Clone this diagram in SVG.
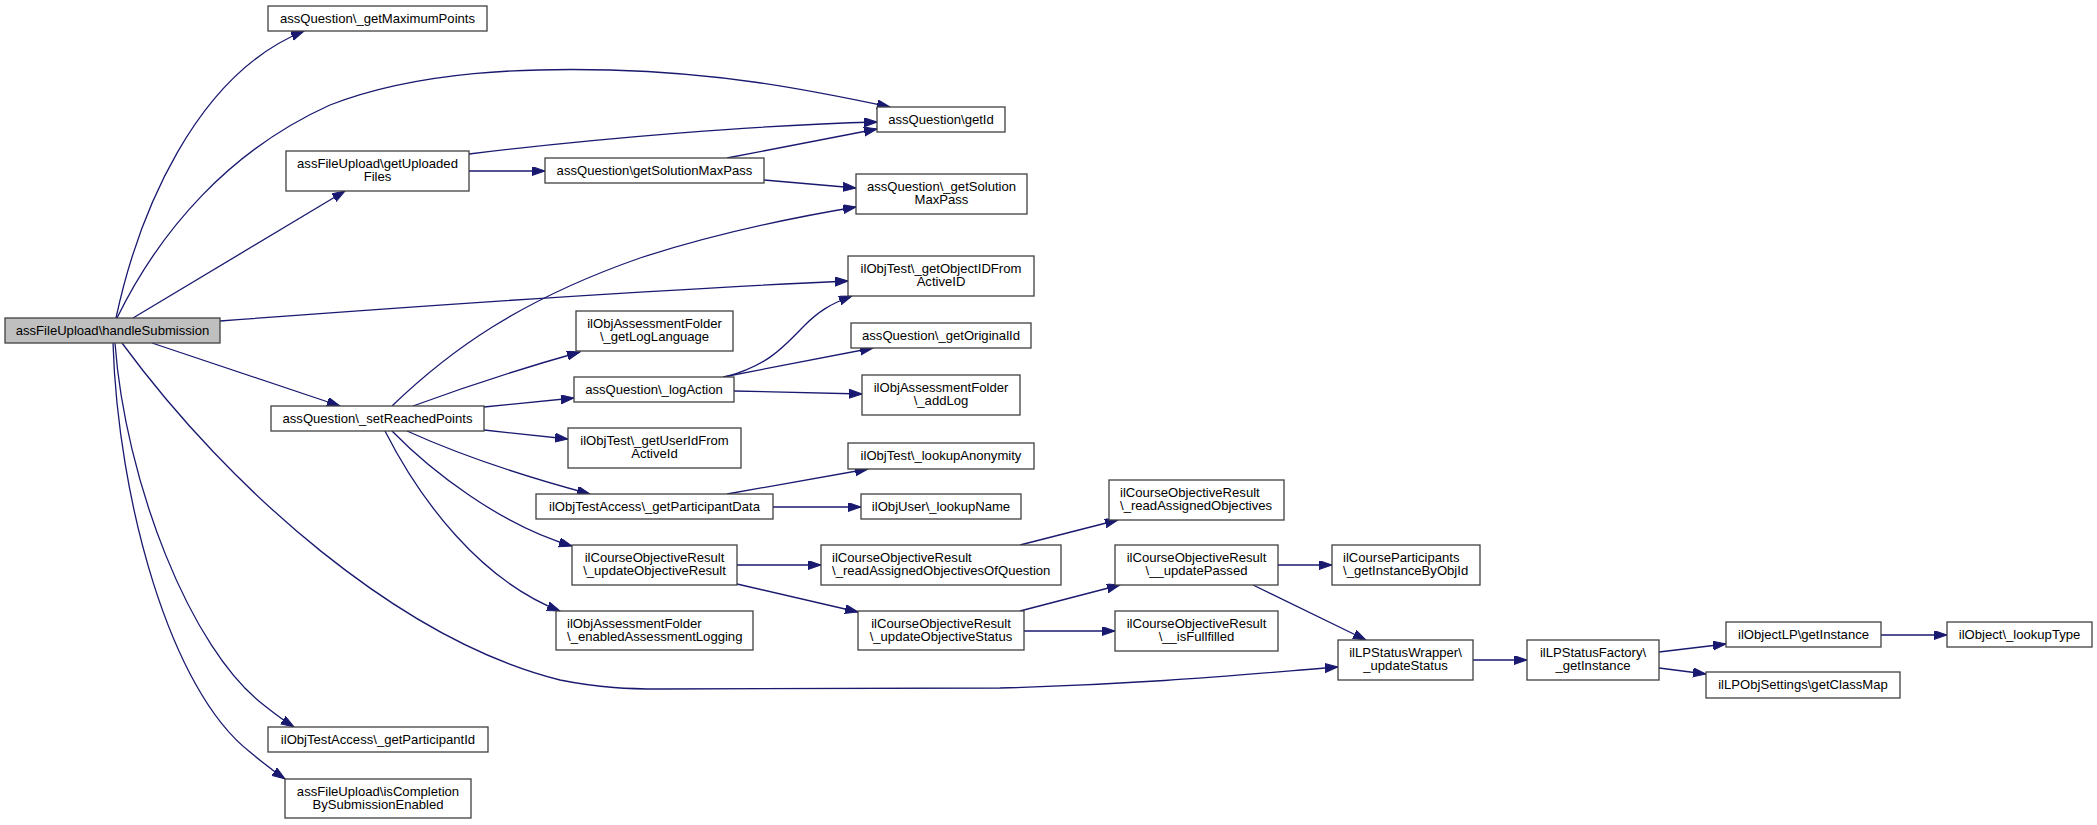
<svg xmlns="http://www.w3.org/2000/svg" width="2097" height="825" viewBox="0 0 2097 825">
<style>
.n rect{fill:#ffffff;stroke:#404040;stroke-width:1.3}
.n.root rect{fill:#bfbfbf}
.n text{font-family:"Liberation Sans",Arial,Helvetica,sans-serif;font-size:13.1px;fill:#000000;text-anchor:middle}
.n text.l{text-anchor:start}
#edges path{fill:none;stroke:#191970;stroke-width:1.3;marker-end:url(#ah)}
</style>
<defs>
<marker id="ah" markerUnits="userSpaceOnUse" markerWidth="14" markerHeight="10" viewBox="0 0 14 10" refX="13" refY="4.5" orient="auto">
<path d="M0,0 L13,4.5 L0,9 z" fill="#191970" stroke="#191970" stroke-width="1"/>
</marker>
</defs>
<rect width="2097" height="825" fill="#ffffff"/>
<g id="edges">
<path d="M116,318 C138,215 195,75 304,31"/>
<path d="M117,318 C160,230 230,150 330,105 C420,70 530,68 610,70 C720,73 800,88 890,107"/>
<path d="M133,318 L345,191"/>
<path d="M220,321 C420,306 640,290 848,281"/>
<path d="M152,343 L340,406"/>
<path d="M122,343 C230,490 400,640 560,680 C600,688 630,689 660,689 L1000,688 C1150,684 1250,674 1338,667"/>
<path d="M115,343 C125,480 190,650 265,706 C275,714 283,720 294,727"/>
<path d="M113,343 C118,500 170,690 250,752 C262,762 272,770 285,779"/>
<path d="M469,154 C600,138 760,125 877,122"/>
<path d="M469,171 L545,171"/>
<path d="M727,158 L877,129"/>
<path d="M764,180 L856,188"/>
<path d="M392,406 C450,350 520,300 640,258 C720,232 790,218 856,207"/>
<path d="M413,406 C470,385 530,366 580,352"/>
<path d="M484,407 L574,398"/>
<path d="M484,430 L568,439"/>
<path d="M407,431 C460,455 530,478 590,494"/>
<path d="M392,431 C430,470 500,525 572,546"/>
<path d="M385,431 C420,500 480,580 560,611"/>
<path d="M725,377 C770,365 785,345 805,325 C818,312 830,304 852,296"/>
<path d="M723,377 L873,348"/>
<path d="M734,391 L862,394"/>
<path d="M727,494 L868,469"/>
<path d="M773,507 L861,507"/>
<path d="M737,565 L821,565"/>
<path d="M737,584 L858,612"/>
<path d="M1020,545 L1118,520"/>
<path d="M1020,611 L1120,585"/>
<path d="M1024,631 L1115,631"/>
<path d="M1278,565 L1332,565"/>
<path d="M1253,585 L1366,640"/>
<path d="M1473,660 L1527,660"/>
<path d="M1659,652 L1726,644"/>
<path d="M1659,668 L1706,674"/>
<path d="M1881,635 L1947,635"/>
</g>
<g id="n0" class="n root"><rect x="5" y="318" width="215" height="25"/><text x="112.5" y="335">assFileUpload\handleSubmission</text></g>
<g id="n1" class="n"><rect x="268" y="6" width="219" height="25"/><text x="377.5" y="23">assQuestion\_getMaximumPoints</text></g>
<g id="n2" class="n"><rect x="877" y="107" width="128" height="25"/><text x="941" y="124">assQuestion\getId</text></g>
<g id="n3" class="n"><rect x="286" y="151" width="183" height="40"/><text x="377.5" y="167.5">assFileUpload\getUploaded</text><text x="377.5" y="181">Files</text></g>
<g id="n4" class="n"><rect x="545" y="158" width="219" height="25"/><text x="654.5" y="175">assQuestion\getSolutionMaxPass</text></g>
<g id="n5" class="n"><rect x="856" y="174" width="171" height="40"/><text x="941.5" y="190.5">assQuestion\_getSolution</text><text x="941.5" y="204">MaxPass</text></g>
<g id="n6" class="n"><rect x="848" y="256" width="186" height="40"/><text x="941" y="272.5">ilObjTest\_getObjectIDFrom</text><text x="941" y="286">ActiveID</text></g>
<g id="n7" class="n"><rect x="576" y="311" width="157" height="40"/><text x="654.5" y="327.5">ilObjAssessmentFolder</text><text x="654.5" y="341">\_getLogLanguage</text></g>
<g id="n8" class="n"><rect x="851" y="323" width="180" height="25"/><text x="941" y="340">assQuestion\_getOriginalId</text></g>
<g id="n9" class="n"><rect x="574" y="377" width="160" height="25"/><text x="654" y="394">assQuestion\_logAction</text></g>
<g id="n10" class="n"><rect x="862" y="375" width="158" height="40"/><text x="941" y="391.5">ilObjAssessmentFolder</text><text x="941" y="405">\_addLog</text></g>
<g id="n11" class="n"><rect x="271" y="406" width="213" height="25"/><text x="377.5" y="423">assQuestion\_setReachedPoints</text></g>
<g id="n12" class="n"><rect x="568" y="428" width="173" height="40"/><text x="654.5" y="444.5">ilObjTest\_getUserIdFrom</text><text x="654.5" y="458">ActiveId</text></g>
<g id="n13" class="n"><rect x="848" y="443" width="186" height="26"/><text x="941" y="460">ilObjTest\_lookupAnonymity</text></g>
<g id="n14" class="n"><rect x="536" y="494" width="237" height="25"/><text x="654.5" y="511">ilObjTestAccess\_getParticipantData</text></g>
<g id="n15" class="n"><rect x="861" y="494" width="160" height="25"/><text x="941" y="511">ilObjUser\_lookupName</text></g>
<g id="n16" class="n"><rect x="572" y="545" width="165" height="40"/><text x="654.5" y="561.5">ilCourseObjectiveResult</text><text x="654.5" y="575">\_updateObjectiveResult</text></g>
<g id="n17" class="n"><rect x="821" y="545" width="240" height="40"/><text class="l" x="832" y="561.5">ilCourseObjectiveResult</text><text class="l" x="832" y="575">\_readAssignedObjectivesOfQuestion</text></g>
<g id="n18" class="n"><rect x="1109" y="480" width="175" height="40"/><text class="l" x="1120" y="496.5">ilCourseObjectiveResult</text><text class="l" x="1120" y="510">\_readAssignedObjectives</text></g>
<g id="n19" class="n"><rect x="1115" y="545" width="163" height="40"/><text x="1196.5" y="561.5">ilCourseObjectiveResult</text><text x="1196.5" y="575">\__updatePassed</text></g>
<g id="n20" class="n"><rect x="1332" y="545" width="148" height="40"/><text class="l" x="1343" y="561.5">ilCourseParticipants</text><text class="l" x="1343" y="575">\_getInstanceByObjId</text></g>
<g id="n21" class="n"><rect x="556" y="611" width="197" height="39"/><text class="l" x="567" y="627.5">ilObjAssessmentFolder</text><text class="l" x="567" y="641">\_enabledAssessmentLogging</text></g>
<g id="n22" class="n"><rect x="858" y="611" width="166" height="39"/><text x="941" y="627.5">ilCourseObjectiveResult</text><text x="941" y="641">\_updateObjectiveStatus</text></g>
<g id="n23" class="n"><rect x="1115" y="611" width="163" height="40"/><text x="1196.5" y="627.5">ilCourseObjectiveResult</text><text x="1196.5" y="641">\__isFullfilled</text></g>
<g id="n24" class="n"><rect x="1338" y="640" width="135" height="40"/><text x="1405.5" y="656.5">ilLPStatusWrapper\</text><text x="1405.5" y="670">_updateStatus</text></g>
<g id="n25" class="n"><rect x="1527" y="640" width="132" height="40"/><text x="1593" y="656.5">ilLPStatusFactory\</text><text x="1593" y="670">_getInstance</text></g>
<g id="n26" class="n"><rect x="1726" y="622" width="155" height="25"/><text x="1803.5" y="639">ilObjectLP\getInstance</text></g>
<g id="n27" class="n"><rect x="1947" y="622" width="145" height="25"/><text x="2019.5" y="639">ilObject\_lookupType</text></g>
<g id="n28" class="n"><rect x="1706" y="672" width="194" height="26"/><text x="1803" y="689">ilLPObjSettings\getClassMap</text></g>
<g id="n29" class="n"><rect x="268" y="727" width="220" height="25"/><text x="378" y="744">ilObjTestAccess\_getParticipantId</text></g>
<g id="n30" class="n"><rect x="285" y="779" width="186" height="39"/><text x="378" y="795.5">assFileUpload\isCompletion</text><text x="378" y="809">BySubmissionEnabled</text></g>
</svg>
